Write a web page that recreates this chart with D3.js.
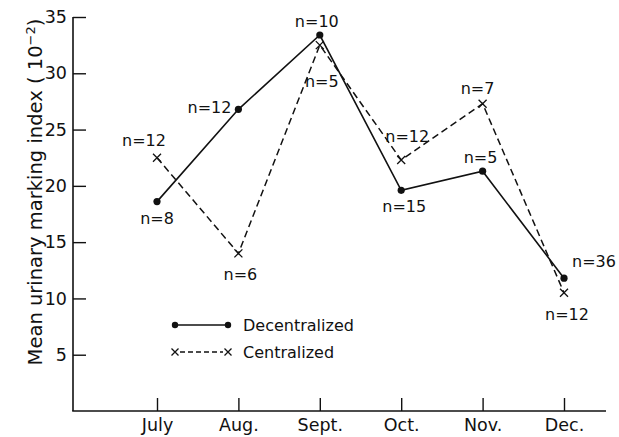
<!DOCTYPE html>
<html>
<head>
<meta charset="utf-8">
<script src="https://cdn.jsdelivr.net/npm/d3@7"></script>
<style>
  html, body { margin: 0; padding: 0; background: #fff; }
  svg { display: block; font-family: "DejaVu Sans", sans-serif; }
</style>
</head>
<body>
<svg id="chart" width="619" height="437"></svg>
<script>
// Monthly mean urinary marking index (×10^-2) for two colony types
const months = ["July", "Aug.", "Sept.", "Oct.", "Nov.", "Dec."];
const decentralized = [18.6, 26.8, 33.4, 19.6, 21.3, 11.8];
const centralized = [22.5, 14.0, 32.5, 22.3, 27.3, 10.5];
const decentralizedN = [8, 12, 10, 15, 5, 36];
const centralizedN = [12, 6, 5, 12, 7, 12];
const yTicks = [5, 10, 15, 20, 25, 30, 35];

const svg = d3.select("#chart");
const ink = "#111";

const x = d3.scalePoint().domain(months).range([157, 564]);
const y = d3.scaleLinear().domain([0, 35]).range([411, 17]);

// Axes: ticks point inward
const yAxis = d3.axisLeft(y).tickValues(yTicks).tickSize(-13).tickPadding(6);
const gy = svg.append("g").attr("transform", "translate(73,0)").call(yAxis);
gy.select(".domain").remove();
gy.selectAll("line").attr("stroke", ink).attr("stroke-width", 1.4);
gy.selectAll("text").attr("font-size", 17.5).attr("fill", ink)
  .attr("font-family", "DejaVu Sans, sans-serif");

const xAxis = d3.axisBottom(x).tickSize(-13).tickPadding(8);
const gx = svg.append("g").attr("transform", "translate(0,411)").call(xAxis);
gx.select(".domain").remove();
gx.selectAll("line").attr("stroke", ink).attr("stroke-width", 1.4);
gx.selectAll("text").attr("font-size", 17.5).attr("fill", ink)
  .attr("font-family", "DejaVu Sans, sans-serif");

// Axis lines
svg.append("line").attr("x1", 73).attr("x2", 73).attr("y1", y(35)).attr("y2", y(0))
  .attr("stroke", ink).attr("stroke-width", 1.6);
svg.append("line").attr("x1", 72.2).attr("x2", 606).attr("y1", y(0)).attr("y2", y(0))
  .attr("stroke", ink).attr("stroke-width", 1.6);

// Y axis title
const title = svg.append("text")
  .attr("transform", "translate(42,192) rotate(-90)")
  .attr("text-anchor", "middle")
  .attr("font-size", 19.5)
  .attr("fill", ink);
title.append("tspan").text("Mean urinary marking index ( 10");
title.append("tspan").attr("dy", -7).attr("font-size", 13).text("\u22122");
title.append("tspan").attr("dy", 7).text(")");

const line = d3.line().x((d, i) => x(months[i])).y(d => y(d));

// Centralized: dashed line with crosses
svg.append("path").datum(centralized).attr("d", line)
  .attr("fill", "none").attr("stroke", ink).attr("stroke-width", 1.5)
  .attr("stroke-dasharray", "7,4");

// Decentralized: solid line with dots
svg.append("path").datum(decentralized).attr("d", line)
  .attr("fill", "none").attr("stroke", ink).attr("stroke-width", 1.6);

function cross(g, cx, cy, s) {
  g.append("path")
    .attr("d", `M${cx - s},${cy - s}L${cx + s},${cy + s}M${cx - s},${cy + s}L${cx + s},${cy - s}`)
    .attr("stroke", ink).attr("stroke-width", 1.3).attr("fill", "none");
}

const marks = svg.append("g");
centralized.forEach((v, i) => cross(marks, x(months[i]), y(v), 4));
marks.selectAll("circle.dec").data(decentralized).join("circle")
  .attr("class", "dec")
  .attr("cx", (d, i) => x(months[i])).attr("cy", d => y(d)).attr("r", 3.6)
  .attr("fill", ink);

// Sample-size labels, placed around each point
const decPlace = [[0, 22, "middle"], [-7, 4, "end"], [-3, -8, "middle"],
                  [3, 22, "middle"], [-2, -8, "middle"], [8, -11, "start"]];
const cenPlace = [[-13, -12, "middle"], [2, 27, "middle"], [2, 42, "middle"],
                  [6, -18, "middle"], [-5, -10, "middle"], [3, 27, "middle"]];

function nLabels(vals, ns, place) {
  svg.append("g").selectAll("text").data(vals).join("text")
    .attr("x", (d, i) => x(months[i]) + place[i][0])
    .attr("y", (d, i) => y(d) + place[i][1])
    .attr("text-anchor", (d, i) => place[i][2])
    .attr("font-size", 16).attr("fill", ink)
    .text((d, i) => "n=" + ns[i]);
}
nLabels(decentralized, decentralizedN, decPlace);
nLabels(centralized, centralizedN, cenPlace);

// Legend
const lg = svg.append("g");
lg.append("line").attr("x1", 175).attr("x2", 228).attr("y1", 325).attr("y2", 325)
  .attr("stroke", ink).attr("stroke-width", 1.6);
[175, 228].forEach(cx => lg.append("circle").attr("cx", cx).attr("cy", 325).attr("r", 3.2).attr("fill", ink));
lg.append("text").attr("x", 243).attr("y", 331).attr("font-size", 16).attr("fill", ink).text("Decentralized");

lg.append("line").attr("x1", 180).attr("x2", 223).attr("y1", 352).attr("y2", 352)
  .attr("stroke", ink).attr("stroke-width", 1.3).attr("stroke-dasharray", "5,3");
cross(lg, 175, 352, 3.5);
cross(lg, 228, 352, 3.5);
lg.append("text").attr("x", 243).attr("y", 358).attr("font-size", 16).attr("fill", ink).text("Centralized");
</script>
</body>
</html>
